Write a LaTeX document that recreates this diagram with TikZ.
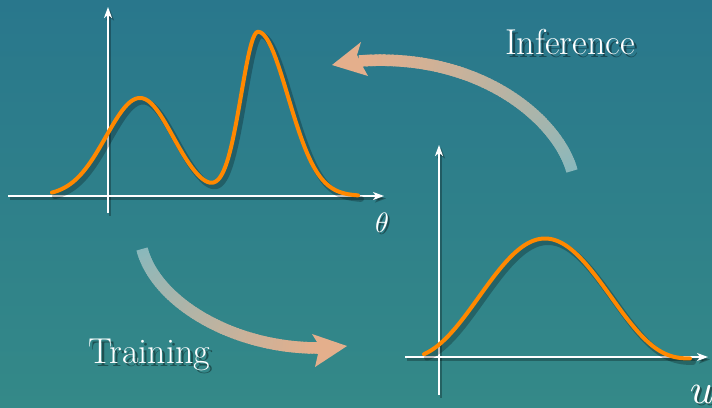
\documentclass[tikz,border=0pt]{standalone}
\usetikzlibrary{arrows.meta}
\definecolor{bgtop}{RGB}{41,119,140}
\definecolor{bgbot}{RGB}{52,137,136}
\definecolor{curveor}{RGB}{255,136,0}
\definecolor{peach}{RGB}{228,175,140}
\definecolor{tailc}{RGB}{138,184,188}
\newcommand\gradshaft[4]{%
  \foreach \i in {0,...,79}{%
    \pgfmathsetmacro\ta{\i/80}%
    \pgfmathsetmacro\tb{min(1,(\i+1.6)/80)}%
    \pgfmathsetmacro\pc{100*\i/79}%
    \path #1 .. controls #2 and #3 .. #4 coordinate[pos=\ta] (ga) coordinate[pos=\tb] (gb);%
    \draw[line width=11.5pt, color=peach!\pc!tailc] (ga) -- (gb);%
  }}
\begin{document}
\begin{tikzpicture}[x=1pt,y=-1pt,
  axis/.style={white, line width=1.6pt, -{Stealth[length=11pt,width=8pt,inset=3pt]}},
  axshadow/.style={black, opacity=.28, line width=2.4pt, -{Stealth[length=11pt,width=8pt,inset=3pt]}},
  curve/.style={curveor, line width=4pt, line cap=round, line join=round},
  curveshadow/.style={black, opacity=.25, line width=6pt, line cap=round, line join=round},
  lbl/.style={white, inner sep=0pt, font=\fontsize{36}{40}\selectfont},
  lblshadow/.style={black, opacity=.4, inner sep=0pt, font=\fontsize{36}{40}\selectfont},
  axlbl/.style={white, inner sep=0pt},
  axlblshadow/.style={black, opacity=.4, inner sep=0pt},
  head/.style={fill=peach, draw=none},
  declare function={
    gs(\u)=exp(max(-20,-0.5*\u*\u));
    sa(\t)=(\t<140)*34+(\t>=140)*33;
    sb(\t)=(\t<258)*17+(\t>=258)*30;
    fl(\t)=98*gs((\t-140)/sa(\t))+164*gs((\t-258)/sb(\t));
    pw(\u)=(1-\u*\u)*(1-\u*\u)*(1-\u*\u);
    fr(\t)=120*pw((\t-545)/148)-1.5;
  }]
\shade[top color=bgtop, bottom color=bgbot] (0,0) rectangle (712,407);
\useasboundingbox (0,0) rectangle (712,407);

% ---------- left plot ----------
\coordinate (Lx0) at (8,196);
\coordinate (Lx1) at (384,196);
\coordinate (Ly0) at (108,213);
\coordinate (Ly1) at (108,7);
\draw[axshadow] ([shift={(2,2.5)}]Lx0) -- ([shift={(2,2.5)}]Lx1);
\draw[axshadow] ([shift={(2,2.5)}]Ly0) -- ([shift={(2,2.5)}]Ly1);
\draw[axis] (Lx0) -- (Lx1);
\draw[axis] (Ly0) -- (Ly1);
\draw[curveshadow] plot[domain=52:358, samples=220, smooth] (\x+3,{199.5-fl(\x)});
\draw[curve] plot[domain=52:358, samples=220, smooth] (\x,{196-fl(\x)});
\node[axlblshadow, scale=2.8] at (384,225) {$\theta$};
\node[axlbl, scale=2.8] (theta) at (382,223) {$\theta$};

% ---------- right plot ----------
\coordinate (Rx0) at (405,357);
\coordinate (Rx1) at (708,357);
\coordinate (Ry0) at (439,395);
\coordinate (Ry1) at (439,145);
\draw[axshadow] ([shift={(2,2.5)}]Rx0) -- ([shift={(2,2.5)}]Rx1);
\draw[axshadow] ([shift={(2,2.5)}]Ry0) -- ([shift={(2,2.5)}]Ry1);
\draw[axis] (Rx0) -- (Rx1);
\draw[axis] (Ry0) -- (Ry1);
\draw[curveshadow] plot[domain=424:690, samples=200, smooth] (\x+3,{360.5-fr(\x)});
\draw[curve] plot[domain=424:690, samples=200, smooth] (\x,{357-fr(\x)});
\node[axlblshadow, anchor=base west, scale=4.2] at (691,405) {$u$};
\node[axlbl, anchor=base west, scale=4.2] (ulbl) at (689,403) {$u$};

% ---------- Inference arrow ----------
\coordinate (I0) at (572,171);
\coordinate (I1) at (558,120);
\coordinate (I2) at (480,52);
\coordinate (I3) at (359,61);
\gradshaft{(I0)}{(I1)}{(I2)}{(I3)}
\fill[head] (332,65) -- (361,42) -- (357,55) -- (363,67) -- (368,76) -- cycle;
\node[lblshadow] at (573,45) {Inference};
\node[lbl] (inf) at (570,42) {Inference};

% ---------- Training arrow ----------
\coordinate (T0) at (142,249);
\coordinate (T1) at (155,300);
\coordinate (T2) at (230,348);
\coordinate (T3) at (318,348);
\gradshaft{(T0)}{(T1)}{(T2)}{(T3)}
\fill[head] (347,346) -- (312,334) -- (317,342) -- (318,354) -- (315,367) -- cycle;
\node[lblshadow] at (152,358) {Training};
\node[lbl] (train) at (149,355) {Training};
\end{tikzpicture}
\end{document}
